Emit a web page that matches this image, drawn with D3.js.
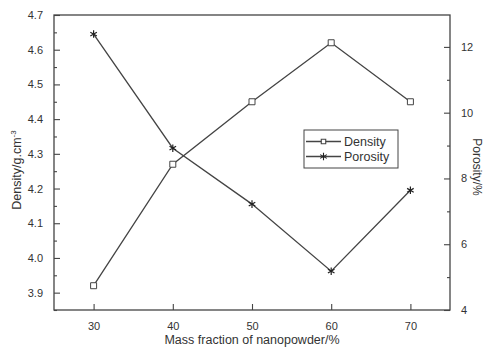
<!DOCTYPE html>
<html><head><meta charset="utf-8">
<script src="https://cdn.jsdelivr.net/npm/d3@7"></script>
<style>body{margin:0;background:#fff}svg{display:block}</style>
</head><body><svg id="c" width="485" height="348"></svg>
<script>
const massFraction = [30, 40, 50, 60, 70];
const density = [3.92, 4.27, 4.45, 4.62, 4.45];
const porosity = [12.39, 8.92, 7.22, 5.18, 7.64];
const xTicks = [30, 40, 50, 60, 70];
const densityTicks = [3.9, 4.0, 4.1, 4.2, 4.3, 4.4, 4.5, 4.6, 4.7];
const porosityTicks = [4, 6, 8, 10, 12];
const seriesNames = ["Density", "Porosity"];

const svg = d3.select("#c");
const L = 54, R = 450, T = 15, B = 310;
const col = "#444", txt = "#333", font = "Liberation Sans, Arial, sans-serif";
const x = d3.scaleLinear().domain([25, 75]).range([L, R]);
const yL = d3.scaleLinear().domain([3.85, 4.7]).range([B, T]);
const yR = d3.scaleLinear().domain([4, 12.97]).range([B, T]);

// frame
svg.append("rect").attr("x", L).attr("y", T).attr("width", R - L).attr("height", B - T)
  .attr("fill", "none").attr("stroke", col).attr("stroke-width", 1.3);

function styleAxis(g) {
  g.select(".domain").remove();
  g.selectAll("line").attr("stroke", col).attr("stroke-width", 1.1);
  g.selectAll("text").attr("fill", txt).attr("font-family", font).attr("font-size", 11);
}
// bottom
svg.append("g").attr("transform", `translate(0,${B})`)
  .call(d3.axisBottom(x).tickValues(xTicks).tickSizeInner(-6).tickSizeOuter(0).tickPadding(12).tickFormat(d3.format("d")))
  .call(styleAxis);
// left minor
svg.append("g").attr("transform", `translate(${L},0)`)
  .call(d3.axisLeft(yL).tickValues(d3.range(3.85, 4.71, 0.1).map(v => +v.toFixed(2))).tickSize(-3).tickFormat(""))
  .call(styleAxis);
svg.append("g").attr("transform", `translate(${L},0)`)
  .call(d3.axisLeft(yL).tickValues(densityTicks).tickSizeInner(-6).tickSizeOuter(0).tickPadding(11).tickFormat(d3.format(".1f")))
  .call(styleAxis);
// right
svg.append("g").attr("transform", `translate(${R},0)`)
  .call(d3.axisRight(yR).tickValues([5, 7, 9, 11]).tickSize(-3).tickFormat(""))
  .call(styleAxis);
svg.append("g").attr("transform", `translate(${R},0)`)
  .call(d3.axisRight(yR).tickValues(porosityTicks).tickSizeInner(-6).tickSizeOuter(0).tickPadding(11).tickFormat(d3.format("d")))
  .call(styleAxis);

// lines
const lineD = d3.line().x((d, i) => x(massFraction[i])).y(d => yL(d));
const lineP = d3.line().x((d, i) => x(massFraction[i])).y(d => yR(d));
svg.append("path").attr("d", lineD(density)).attr("fill", "none").attr("stroke", col).attr("stroke-width", 1.3);
svg.append("path").attr("d", lineP(porosity)).attr("fill", "none").attr("stroke", col).attr("stroke-width", 1.3);

const sq = d3.symbol().type(d3.symbolSquare).size(36);
const star = d3.symbol().type(d3.symbolAsterisk).size(40);
svg.selectAll(".sq").data(density).join("path").attr("d", sq)
  .attr("transform", (d, i) => `translate(${x(massFraction[i])},${yL(d)})`)
  .attr("fill", "#fff").attr("stroke", col).attr("stroke-width", 1);
svg.selectAll(".st").data(porosity).join("path").attr("d", star)
  .attr("transform", (d, i) => `translate(${x(massFraction[i])},${yR(d)})`)
  .attr("fill", "none").attr("stroke", "#222").attr("stroke-width", 1.2);

// legend
const lg = svg.append("g");
lg.append("rect").attr("x", 304).attr("y", 130).attr("width", 94).attr("height", 38)
  .attr("fill", "#fff").attr("stroke", col).attr("stroke-width", 1);
seriesNames.forEach((n, i) => {
  const yy = 141.5 + i * 15;
  lg.append("line").attr("x1", 306).attr("x2", 341).attr("y1", yy).attr("y2", yy).attr("stroke", col).attr("stroke-width", 1.3);
  lg.append("path").attr("d", i === 0 ? d3.symbol().type(d3.symbolSquare).size(20)() : star())
    .attr("transform", `translate(323.5,${yy})`)
    .attr("fill", i === 0 ? "#fff" : "none").attr("stroke", i === 0 ? col : "#222").attr("stroke-width", 1.1);
  lg.append("text").attr("x", 344).attr("y", yy).attr("dy", "0.35em").text(n)
    .attr("font-family", font).attr("font-size", 12.5).attr("fill", txt);
});

// axis titles
svg.append("text").attr("x", 252).attr("y", 344).attr("text-anchor", "middle")
  .attr("font-family", font).attr("font-size", 12.5).attr("fill", txt).text("Mass fraction of nanopowder/%");
const yt = svg.append("text").attr("transform", "translate(21,170) rotate(-90)").attr("text-anchor", "middle")
  .attr("font-family", font).attr("font-size", 12.5).attr("fill", txt);
yt.append("tspan").text("Density/g.cm");
yt.append("tspan").attr("dy", -5).attr("font-size", 8).text("-3");
svg.append("text").attr("transform", "translate(473,167) rotate(90)").attr("text-anchor", "middle")
  .attr("font-family", font).attr("font-size", 12).attr("fill", txt).text("Porosity/%");
</script></body></html>
